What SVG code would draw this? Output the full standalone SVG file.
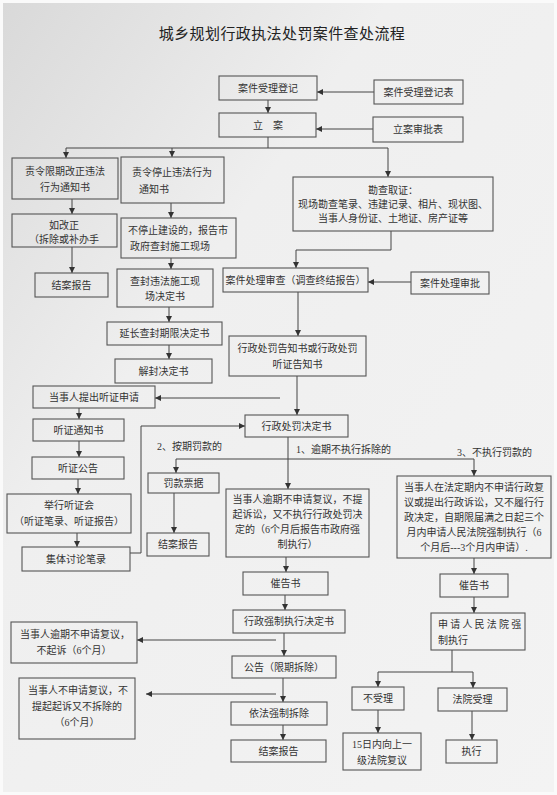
<svg xmlns="http://www.w3.org/2000/svg" width="557" height="795" viewBox="0 0 557 795">
<defs>
<linearGradient id="bg" x1="0" y1="0" x2="1" y2="1">
<stop offset="0" stop-color="#d9d9d9"/>
<stop offset="0.35" stop-color="#efefef"/>
<stop offset="1" stop-color="#f3f3f3"/>
</linearGradient>
<marker id="ah" markerUnits="userSpaceOnUse" markerWidth="7" markerHeight="7" refX="6" refY="3.5" orient="auto">
<path d="M0,0.5 L6,3.5 L0,6.5 Z" fill="#333"/>
</marker>
<style>
.b{fill:none;stroke:#555;stroke-width:1.1}
.t{font-family:"Liberation Serif","Noto Sans CJK SC",serif;font-size:10px;fill:#333;text-anchor:middle}
.l{font-family:"Liberation Serif","Noto Sans CJK SC",serif;font-size:10px;fill:#333}
.c{fill:none;stroke:#444;stroke-width:1}
.a{marker-end:url(#ah)}
</style>
</defs>
<rect x="0" y="0" width="557" height="795" fill="#fafafa"/>
<rect x="3" y="3" width="551" height="789" fill="url(#bg)"/>
<text x="282" y="39" style="font-family:'Liberation Serif','Noto Sans CJK SC',serif;font-size:15px;fill:#222;text-anchor:middle;letter-spacing:0.4px">城乡规划行政执法处罚案件查处流程</text>

<g id="connectors">
<path class="c a" d="M374,92 H317"/>
<path class="c a" d="M268,100 V113"/>
<path class="c a" d="M373,129 H316"/>
<path class="c" d="M268,137 V148 M66,148 H388"/>
<path class="c a" d="M66,148 V158"/>
<path class="c a" d="M172,148 V157"/>
<path class="c a" d="M388,148 V177"/>
<path class="c a" d="M72,199 V214"/>
<path class="c a" d="M72,247 V273"/>
<path class="c a" d="M171,203 V218"/>
<path class="c a" d="M171,258 V269"/>
<path class="c a" d="M391,231 V250 H296 V268"/>
<path class="c a" d="M411,282 H368"/>
<path class="c a" d="M169,307 V322"/>
<path class="c a" d="M169,345 V359"/>
<path class="c a" d="M298,292 V336"/>
<path class="c a" d="M297,376 V415"/>
<path class="c a" d="M280,398 H155"/>
<path class="c a" d="M79,408 V419"/>
<path class="c a" d="M79,441 V457"/>
<path class="c a" d="M78,479 V494"/>
<path class="c a" d="M77,533 V547"/>
<path class="c a" d="M130,553 H141 V426 H245"/>
<path class="c a" d="M288,437 V489"/>
<path class="c" d="M176,459 H474"/>
<path class="c a" d="M176,459 V473"/>
<path class="c a" d="M474,459 V476"/>
<path class="c a" d="M174,493 V533"/>
<path class="c a" d="M286,557 V572"/>
<path class="c a" d="M474,558 V574"/>
<path class="c a" d="M285,595 V610"/>
<path class="c a" d="M284,633 V656"/>
<path class="c a" d="M283,678 V702"/>
<path class="c a" d="M283,725 V740"/>
<path class="c a" d="M276,640 H137"/>
<path class="c a" d="M276,694 H146"/>
<path class="c a" d="M474,597 V613"/>
<path class="c" d="M452,650 V672 M378,672 H473"/>
<path class="c a" d="M378,672 V687"/>
<path class="c a" d="M473,672 V688"/>
<path class="c a" d="M378,710 V733"/>
<path class="c a" d="M472,711 V740"/>
</g>

<g id="labels">
<text class="l" x="157" y="450">2、按期罚款的</text>
<text class="l" x="296" y="453">1、逾期不执行拆除的</text>
<text class="l" x="457" y="456">3、不执行罚款的</text>
</g>

<g id="n1"><rect class="b" x="219" y="76" width="98" height="24"/><text class="t" x="268" y="92">案件受理登记</text></g>
<g id="n2"><rect class="b" x="374" y="80" width="89" height="24"/><text class="t" x="418.5" y="96">案件受理登记表</text></g>
<g id="n3"><rect class="b" x="219" y="113" width="97" height="24"/><text class="t" x="268" y="129">立　案</text></g>
<g id="n4"><rect class="b" x="373" y="117" width="90" height="25"/><text class="t" x="418" y="133">立案审批表</text></g>
<g id="n5"><rect class="b" x="12" y="158" width="106" height="41"/><text class="t" x="65" y="175">责令限期改正违法</text><text class="t" x="65" y="191">行为通知书</text></g>
<g id="n6"><rect class="b" x="121" y="157" width="103" height="46"/><text class="t" x="172" y="176">责令停止违法行为</text><text class="t" x="154" y="193">通知书</text></g>
<g id="n7"><rect class="b" x="293" y="177" width="200" height="54"/><text class="t" x="393" y="194">勘查取证：</text><text class="t" x="393" y="208">现场勘查笔录、违建记录、相片、现状图、</text><text class="t" x="393" y="222">当事人身份证、土地证、房产证等</text></g>
<g id="n8"><rect class="b" x="12" y="214" width="105" height="33"/><text class="t" x="64" y="229">如改正</text><text class="t" x="64" y="243">（拆除或补办手</text></g>
<g id="n9"><rect class="b" x="35" y="273" width="73" height="24"/><text class="t" x="71.5" y="289">结案报告</text></g>
<g id="n10"><rect class="b" x="121" y="218" width="115" height="40"/><text class="t" x="178" y="234">不停止建设的，报告市</text><text class="t" x="170" y="250">政府查封施工现场</text></g>
<g id="n11"><rect class="b" x="117" y="269" width="96" height="38"/><text class="t" x="165" y="285">查封违法施工现</text><text class="t" x="165" y="300">场决定书</text></g>
<g id="n12"><rect class="b" x="223" y="268" width="145" height="24"/><text class="t" x="295.5" y="284">案件处理审查（调查终结报告）</text></g>
<g id="n13"><rect class="b" x="411" y="272" width="78" height="22"/><text class="t" x="450" y="287">案件处理审批</text></g>
<g id="n14"><rect class="b" x="107" y="322" width="115" height="23"/><text class="t" x="164.5" y="337">延长查封期限决定书</text></g>
<g id="n15"><rect class="b" x="115" y="359" width="97" height="24"/><text class="t" x="163.5" y="375">解封决定书</text></g>
<g id="n16"><rect class="b" x="229" y="336" width="137" height="40"/><text class="t" x="297.5" y="352">行政处罚告知书或行政处罚</text><text class="t" x="297.5" y="368">听证告知书</text></g>
<g id="n17"><rect class="b" x="33" y="386" width="122" height="22"/><text class="t" x="94" y="401">当事人提出听证申请</text></g>
<g id="n18"><rect class="b" x="245" y="415" width="103" height="22"/><text class="t" x="296.5" y="430">行政处罚决定书</text></g>
<g id="n19"><rect class="b" x="33" y="419" width="91" height="22"/><text class="t" x="78.5" y="434">听证通知书</text></g>
<g id="n20"><rect class="b" x="32" y="457" width="92" height="22"/><text class="t" x="78" y="472">听证公告</text></g>
<g id="n21"><rect class="b" x="7" y="494" width="124" height="39"/><text class="t" x="69" y="509">举行听证会</text><text class="t" x="69" y="525">（听证笔录、听证报告）</text></g>
<g id="n22"><rect class="b" x="22" y="547" width="108" height="24"/><text class="t" x="76" y="563">集体讨论笔录</text></g>
<g id="n23"><rect class="b" x="148" y="473" width="71" height="20"/><text class="t" x="183.5" y="487">罚款票据</text></g>
<g id="n24"><rect class="b" x="147" y="533" width="62" height="23"/><text class="t" x="178" y="548">结案报告</text></g>
<g id="n25"><rect class="b" x="226" y="489" width="143" height="68"/><text class="t" x="297.5" y="503">当事人逾期不申请复议，不提</text><text class="t" x="297.5" y="518">起诉讼，又不执行行政处罚决</text><text class="t" x="297.5" y="533">定的（6个月后报告市政府强</text><text class="t" x="297.5" y="548">制执行）</text></g>
<g id="n26"><rect class="b" x="397" y="476" width="154" height="82"/><text class="t" x="474" y="491">当事人在法定期内不申请行政复</text><text class="t" x="474" y="506">议或提出行政诉讼，又不履行行</text><text class="t" x="474" y="521">政决定，自期限届满之日起三个</text><text class="t" x="474" y="536">月内申请人民法院强制执行（6</text><text class="t" x="474" y="551">个月后---3个月内申请）.</text></g>
<g id="n27"><rect class="b" x="243" y="572" width="85" height="23"/><text class="t" x="285.5" y="587">催告书</text></g>
<g id="n28"><rect class="b" x="440" y="574" width="68" height="23"/><text class="t" x="474" y="589">催告书</text></g>
<g id="n29"><rect class="b" x="233" y="610" width="112" height="23"/><text class="t" x="289" y="625">行政强制执行决定书</text></g>
<g id="n30"><rect class="b" x="232" y="656" width="104" height="22"/><text class="t" x="284" y="671">公告（限期拆除）</text></g>
<g id="n31"><rect class="b" x="231" y="702" width="96" height="23"/><text class="t" x="279" y="717">依法强制拆除</text></g>
<g id="n32"><rect class="b" x="231" y="740" width="95" height="22"/><text class="t" x="278.5" y="755">结案报告</text></g>
<g id="n33"><rect class="b" x="11" y="622" width="126" height="41"/><text class="t" x="75" y="638">当事人逾期不申请复议，</text><text class="t" x="74" y="654">不起诉（6个月）</text></g>
<g id="n34"><rect class="b" x="19" y="678" width="116" height="61"/><text class="t" x="78" y="694">当事人不申请复议，不</text><text class="t" x="77" y="710">提起起诉又不拆除的</text><text class="t" x="77" y="726">（6个月）</text></g>
<g id="n35"><rect class="b" x="431" y="613" width="94" height="37"/><text class="l" x="438" y="628" style="letter-spacing:2.2px">申请人民法院强</text><text class="l" x="438" y="644">制执行</text></g>
<g id="n36"><rect class="b" x="352" y="687" width="52" height="23"/><text class="t" x="378" y="702">不受理</text></g>
<g id="n37"><rect class="b" x="438" y="688" width="69" height="23"/><text class="t" x="472.5" y="703">法院受理</text></g>
<g id="n38"><rect class="b" x="343" y="733" width="78" height="37"/><text class="t" x="382" y="748">15日内向上一</text><text class="t" x="382" y="764">级法院复议</text></g>
<g id="n39"><rect class="b" x="446" y="740" width="51" height="23"/><text class="t" x="471.5" y="755">执行</text></g>
</svg>
